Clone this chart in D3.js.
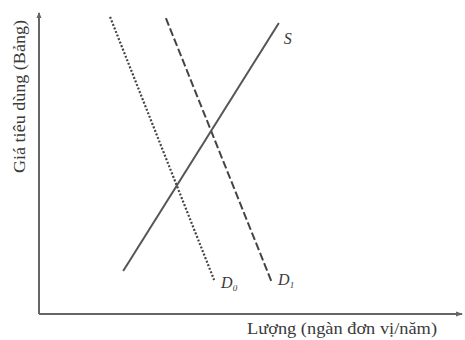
<!DOCTYPE html>
<html>
<head>
<meta charset="utf-8">
<script src="https://cdn.jsdelivr.net/npm/d3@7"></script>
<style>
  body { margin: 0; background: #fff; }
  text { font-family: "Liberation Serif", "DejaVu Serif", serif; fill: #3a3a3a; }
</style>
</head>
<body>
<div id="chart"></div>
<script>
// Data (in chart units, 0-100 on both axes)
const supplyS = [{ q: 19.9, p: 14.3 }, { q: 56.7, p: 96.7 }];
const demandD0 = [{ q: 16.8, p: 98.7 }, { q: 41.4, p: 11.3 }];
const demandD1 = [{ q: 30.0, p: 98.3 }, { q: 55.1, p: 10.3 }];
const xLabel = 'Lượng (ngàn đơn vị/năm)';
const yLabel = 'Giá tiêu dùng (Bảng)';

const width = 465, height = 340;
const margin = { left: 39, right: 3, top: 13, bottom: 26 };

const svg = d3.select('#chart').append('svg')
  .attr('width', width)
  .attr('height', height)
  .attr('viewBox', [0, 0, width, height]);

const x = d3.scaleLinear().domain([0, 100]).range([margin.left, width - margin.right]);
const y = d3.scaleLinear().domain([0, 100]).range([height - margin.bottom, margin.top]);

const line = d3.line().x(d => x(d.q)).y(d => y(d.p));

// axes ////////////////////////////////////////////////////
const axes = svg.append('g').attr('stroke', '#666').attr('stroke-width', 2).attr('fill', 'none');
axes.append('line').attr('x1', x(0)).attr('y1', y(0)).attr('x2', x(0)).attr('y2', y(100));
axes.append('line').attr('x1', x(0)).attr('y1', y(0)).attr('x2', x(100)).attr('y2', y(0));

// arrow heads
svg.append('path')
  .attr('d', `M${x(0) - 2.5},${y(100) + 5}L${x(0)},${y(100) - 1}L${x(0) + 2.5},${y(100) + 5}Z`)
  .attr('fill', '#666');
svg.append('path')
  .attr('d', `M${x(100) - 6},${y(0) - 2.5}L${x(100) + 1},${y(0)}L${x(100) - 6},${y(0) + 2.5}Z`)
  .attr('fill', '#666');

// curves ////////////////////////////////////////////////////
svg.append('path').datum(demandD0)
  .attr('d', line).attr('fill', 'none')
  .attr('stroke', '#444').attr('stroke-width', 2.2)
  .attr('stroke-dasharray', '2,1.8');

svg.append('path').datum(demandD1)
  .attr('d', line).attr('fill', 'none')
  .attr('stroke', '#444').attr('stroke-width', 2)
  .attr('stroke-dasharray', '8,3');

svg.append('path').datum(supplyS)
  .attr('d', line).attr('fill', 'none')
  .attr('stroke', '#555').attr('stroke-width', 2);

// curve labels
const s1 = supplyS[1], d0 = demandD0[1], d1 = demandD1[1];
svg.append('text').attr('x', x(s1.q) + 5).attr('y', y(s1.p) + 21)
  .attr('font-size', 16).attr('font-style', 'italic').text('S');

const lbl0 = svg.append('text').attr('x', x(d0.q) + 7).attr('y', y(d0.p) + 8)
  .attr('font-size', 16).attr('font-style', 'italic');
lbl0.append('tspan').text('D');
lbl0.append('tspan').attr('font-size', 9).attr('dy', 3).text('0');

const lbl1 = svg.append('text').attr('x', x(d1.q) + 6).attr('y', y(d1.p) + 2)
  .attr('font-size', 16).attr('font-style', 'italic');
lbl1.append('tspan').text('D');
lbl1.append('tspan').attr('font-size', 9).attr('dy', 3).text('1');

// axis titles
svg.append('text')
  .attr('x', 247).attr('y', 334)
  .attr('font-size', 16)
  .attr('textLength', 190).attr('lengthAdjust', 'spacingAndGlyphs')
  .text(xLabel);

svg.append('text')
  .attr('transform', `translate(25, 173) rotate(-90)`)
  .attr('font-size', 16)
  .attr('textLength', 153).attr('lengthAdjust', 'spacingAndGlyphs')
  .text(yLabel);
</script>
</body>
</html>
